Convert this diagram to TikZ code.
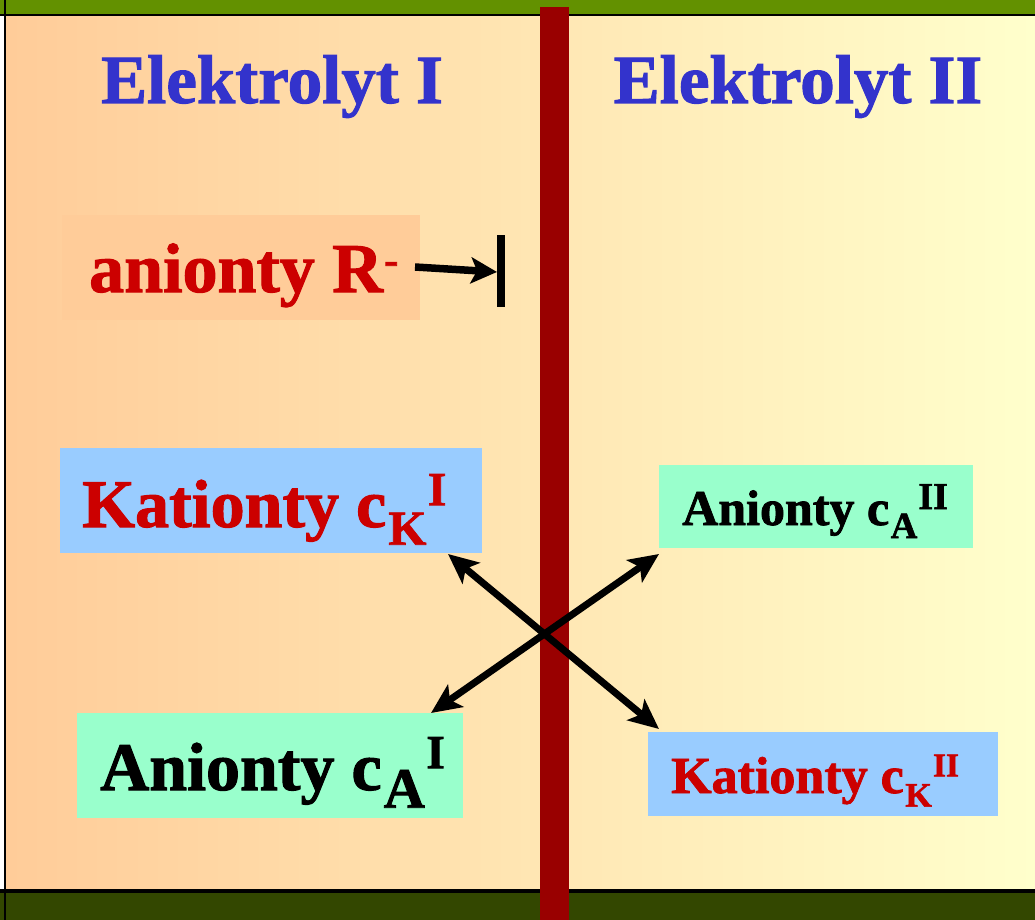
\documentclass[tikz,border=0pt]{standalone}
\usepackage{fontspec}
\setmainfont{Liberation Serif}[BoldFeatures={FakeBold=1.5}]
\usetikzlibrary{arrows.meta}
\definecolor{bgL}{RGB}{255,204,153}
\definecolor{bgR}{RGB}{255,255,204}
\definecolor{topgreen}{RGB}{99,145,0}
\definecolor{botgreen}{RGB}{51,71,0}
\definecolor{membrane}{RGB}{153,0,0}
\definecolor{ttlblue}{RGB}{51,51,204}
\definecolor{txtred}{RGB}{204,0,0}
\definecolor{boxblue}{RGB}{153,204,255}
\definecolor{boxgreen}{RGB}{153,255,204}
\definecolor{boxpeach}{RGB}{255,204,153}
% #1 main, #2 sub, #3 sup, #4 sub scale, #5 sup scale
\newcommand\ionlbl[5]{#1\kern0.03em\raisebox{-0.26em}{\scalebox{#4}{#2}}\kern0.02em\raisebox{0.32em}{\scalebox{#5}{#3}}}
\newcommand\fsz[1]{\fontsize{#1}{#1}\selectfont\bfseries}
\begin{document}
\begin{tikzpicture}[x=1pt,y=-1pt,
  box/.style={draw=none,inner sep=0pt,anchor=north west},
  lbl/.style={inner sep=0pt,anchor=base west},
  ttl/.style={inner sep=0pt,anchor=base,text=ttlblue},
  dbl/.style={line width=7pt,{Stealth[length=30pt,width=27pt,inset=7pt]}-{Stealth[length=30pt,width=27pt,inset=7pt]}},
  sgl/.style={line width=7.5pt,-{Stealth[length=26pt,width=26pt,inset=6pt]}}]
\useasboundingbox (0,0) rectangle (1035,920);
% background
\shade[left color=bgL,right color=bgR] (6,15) rectangle (1035,891);
\fill[topgreen] (0,0) rectangle (1035,14);
\fill[botgreen] (0,892) rectangle (1035,920);
\fill[black] (0,14) rectangle (1035,16.5);
\fill[black] (0,889) rectangle (1035,892.5);
\fill[black] (3.5,0) rectangle (6,920);
% titles
\node[ttl,font=\fsz{69}] (t1) at (272,103) {Elektrolyt I};
\node[ttl,font=\fsz{69}] (t2) at (798,103) {Elektrolyt II};
% boxes
\node[box,fill=boxpeach,minimum width=358pt,minimum height=105pt] (rbox) at (62,215) {};
\node[box,fill=boxblue,minimum width=422pt,minimum height=105pt] (k1box) at (60,448) {};
\node[box,fill=boxgreen,minimum width=314pt,minimum height=83pt] (a2box) at (659,465) {};
\node[box,fill=boxgreen,minimum width=386pt,minimum height=105pt] (a1box) at (77,713) {};
\node[box,fill=boxblue,minimum width=350pt,minimum height=84pt] (k2box) at (648,732) {};
% labels
\node[lbl,font=\fsz{70},text=txtred] (rlbl) at (89,292) {anionty R\kern0.02em\raisebox{0.26em}{\scalebox{0.6}{-}}};
\node[lbl,font=\fsz{68},text=txtred] (k1) at (82,527) {\ionlbl{Kationty c}{K}{I}{0.72}{0.7}};
\node[lbl,font=\fsz{50},text=black] (a2) at (682,525) {\ionlbl{Anionty c}{A}{II}{0.74}{0.76}};
\node[lbl,font=\fsz{68},text=black] (a1) at (100,790) {\ionlbl{Anionty c}{A}{I}{0.84}{0.7}};
\node[lbl,font=\fsz{52},text=txtred] (k2) at (671,793) {\ionlbl{Kationty c}{K}{II}{0.66}{0.64}};
% membrane
\fill[membrane] (540,7) rectangle (569,920);
% blocked arrow
\coordinate (rstart) at (415,267);
\coordinate (rtip) at (497,272);
\coordinate (stopT) at (501,235);
\coordinate (stopB) at (501,307);
\draw[sgl] (rstart) -- (rtip);
\draw[line width=8pt] (stopT) -- (stopB);
% crossing arrows
\coordinate (kI) at (448,554);
\coordinate (kII) at (659,729);
\coordinate (aI) at (431,713);
\coordinate (aII) at (659,554);
\draw[dbl] (kI) -- (kII);
\draw[dbl] (aI) -- (aII);
\end{tikzpicture}
\end{document}
